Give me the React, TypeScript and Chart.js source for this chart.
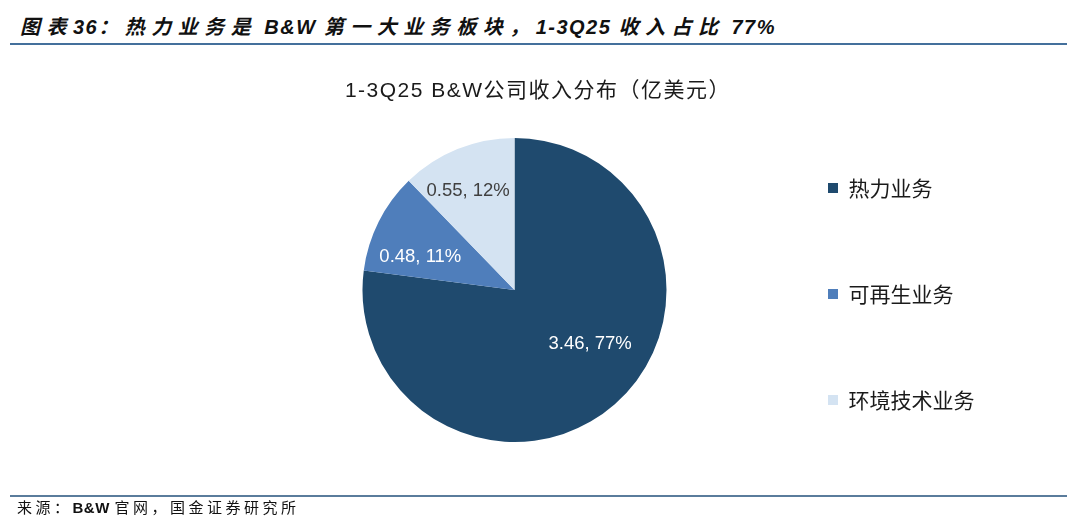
import React, { useEffect, useRef } from "react";
import { Chart, registerables } from "chart.js";

Chart.register(...registerables);

const categories = ["热力业务", "可再生业务", "环境技术业务"];
const revenues = [3.46, 0.48, 0.55];
const sliceColors = ["#1F4A6E", "#4F7EBB", "#D4E3F2"];
const labelColors = ["#FFFFFF", "#FFFFFF", "#404040"];
const figureTitle = "图表36：热力业务是 B&W 第一大业务板块，1-3Q25 收入占比 77%";
const chartTitle = "1-3Q25 B&W公司收入分布（亿美元）";
const sourceText = "来源：B&W 官网，国金证券研究所";

// label placement relative to each slice (fraction of radius, angle shift in degrees)
const labelPlacement = [
  { frac: 0.61, shift: -13.4 },
  { frac: 0.656, shift: -7.5 },
  { frac: 0.718, shift: -3.1 },
];

const dataLabelPlugin = {
  id: "dataLabels",
  afterDatasetsDraw(chart: any) {
    const ctx = chart.ctx;
    const meta = chart.getDatasetMeta(0);
    const values: number[] = chart.data.datasets[0].data;
    const total = values.reduce((a, b) => a + b, 0);
    ctx.save();
    ctx.font = '18.5px "Liberation Sans", Arial, sans-serif';
    ctx.textAlign = "center";
    ctx.textBaseline = "middle";
    meta.data.forEach((arc: any, i: number) => {
      const p = arc.getProps(["x", "y", "startAngle", "endAngle", "outerRadius"], true);
      const place = labelPlacement[i];
      const ang = (p.startAngle + p.endAngle) / 2 + (place.shift * Math.PI) / 180;
      const r = p.outerRadius * place.frac;
      const x = p.x + Math.cos(ang) * r;
      const y = p.y + Math.sin(ang) * r;
      const pct = Math.round((values[i] / total) * 100);
      ctx.fillStyle = labelColors[i];
      ctx.fillText(`${values[i].toFixed(2)}, ${pct}%`, x, y);
    });
    ctx.restore();
  },
};

function splitRuns(text: string) {
  return text.split(/([\u3000-\u9fff\uff00-\uffef]+)/).filter((s) => s.length > 0);
}

const isCJK = (s: string) => /[\u3000-\u9fff\uff00-\uffef]/.test(s);

export default function App() {
  const canvasRef = useRef<HTMLCanvasElement | null>(null);

  useEffect(() => {
    if (!canvasRef.current) return;
    const chart = new Chart(canvasRef.current, {
      type: "pie",
      data: {
        labels: categories,
        datasets: [
          {
            data: revenues,
            backgroundColor: sliceColors,
            borderWidth: 0,
            radius: 152,
          } as any,
        ],
      },
      options: {
        responsive: false,
        animation: false,
        layout: { padding: { left: 286, right: 95.5, top: 0, bottom: 0 } },
        plugins: {
          tooltip: { enabled: false },
          title: { display: false },
          legend: {
            position: "right",
            align: "center",
            title: { display: true, text: "", font: { size: 8, lineHeight: 1 }, padding: 0 },
            labels: {
              boxWidth: 10,
              boxHeight: 10,
              padding: 85,
              color: "#1a1a1a",
              font: { family: '"Noto Sans CJK SC", sans-serif', size: 21 },
            },
          },
        },
      },
      plugins: [dataLabelPlugin],
    });
    return () => chart.destroy();
  }, []);

  return (
    <div
      style={{
        position: "fixed",
        left: 0,
        top: 0,
        width: 1080,
        height: 524,
        background: "#ffffff",
        overflow: "hidden",
      }}
    >
      <div
        style={{
          position: "absolute",
          left: 20,
          top: 14,
          height: 26,
          lineHeight: "26px",
          fontFamily: '"Liberation Sans", "Noto Sans CJK SC", sans-serif',
          fontWeight: "bold",
          fontStyle: "italic",
          fontSize: 20,
          color: "#111111",
          whiteSpace: "nowrap",
        }}
      >
        {splitRuns(figureTitle).map((run, i) => (
          <span key={i} style={{ letterSpacing: isCJK(run) ? 6.5 : 1.5 }}>
            {run}
          </span>
        ))}
      </div>
      <div
        style={{
          position: "absolute",
          left: 10,
          top: 43,
          width: 1057,
          height: 2,
          background: "#44709C",
        }}
      />
      <canvas
        ref={canvasRef}
        width={1080}
        height={420}
        style={{ position: "absolute", left: 0, top: 80, width: 1080, height: 420 }}
      />
      <div
        style={{
          position: "absolute",
          left: 0,
          width: 1076,
          top: 76,
          height: 28,
          lineHeight: "28px",
          textAlign: "center",
          fontFamily: '"Liberation Sans", "Noto Sans CJK SC", sans-serif',
          fontSize: 21,
          letterSpacing: 1.5,
          color: "#1a1a1a",
          whiteSpace: "nowrap",
          pointerEvents: "none",
        }}
      >
        {chartTitle}
      </div>
      <div
        style={{
          position: "absolute",
          left: 10,
          top: 495,
          width: 1057,
          height: 2,
          background: "#5A7C9C",
        }}
      />
      <div
        style={{
          position: "absolute",
          left: 17,
          top: 497,
          height: 22,
          lineHeight: "22px",
          fontFamily: '"Liberation Sans", "Noto Sans CJK SC", sans-serif',
          fontSize: 15,
          color: "#111111",
          whiteSpace: "nowrap",
        }}
      >
        {splitRuns(sourceText).map((run, i) => (
          <span
            key={i}
            style={{
              letterSpacing: isCJK(run) ? 3.5 : 0.5,
              fontWeight: isCJK(run) ? "normal" : "bold",
            }}
          >
            {run}
          </span>
        ))}
      </div>
    </div>
  );
}
